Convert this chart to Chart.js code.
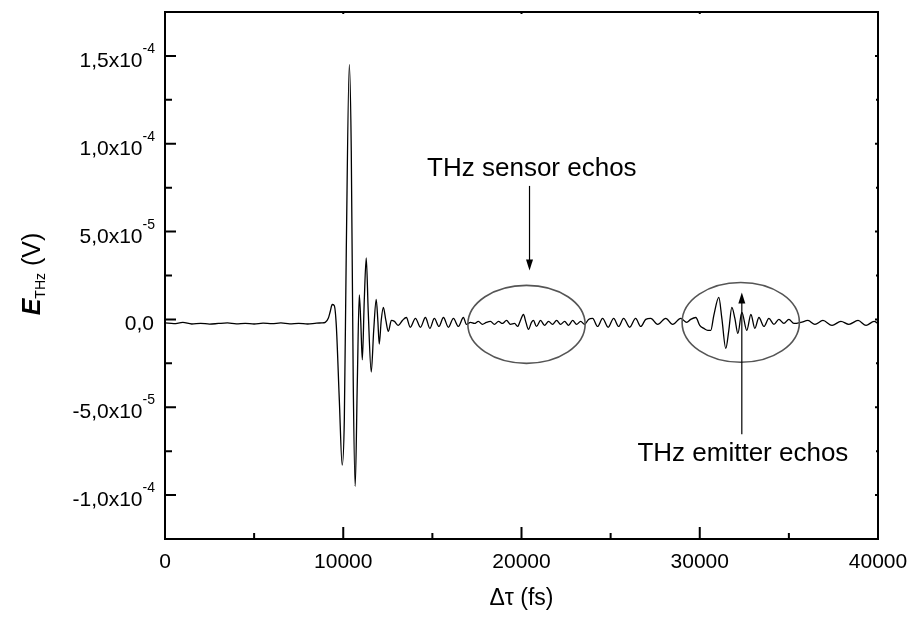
<!DOCTYPE html>
<html>
<head>
<meta charset="utf-8">
<script src="https://cdn.jsdelivr.net/npm/chart.js@4.4.1/dist/chart.umd.min.js"></script>
<style>
  body { margin: 0; background: #fff; }
  #wrap { width: 911px; height: 617px; }
</style>
</head>
<body>
<div id="wrap"><canvas id="thz" width="911" height="617"></canvas></div>
<script>
// time delay (fs)
const delayFs = [
  0, 500, 1000, 1500, 2000, 2500, 3000, 3500, 4000, 4500,
  5000, 5500, 6000, 6500, 7000, 7500, 8000, 8500, 8800, 8990,
  9160, 9270, 9380, 9490, 9610, 9780, 9940, 10060, 10170, 10340,
  10450, 10560, 10670, 10790, 10900, 10980, 11070, 11180, 11290, 11400,
  11570, 11710, 11850, 11940, 12020, 12130, 12250, 12390, 12530, 12700,
  12870, 13090, 13320, 13540, 13760, 14050, 14330, 14610, 14860, 15110,
  15370, 15620, 15900, 16180, 16460, 16740, 16910, 17140, 17360, 17580,
  17810, 18030, 18260, 18480, 18710, 18930, 19160, 19380, 19610, 19780,
  19940, 20110, 20250, 20390, 20560, 20670, 20840, 21070, 21290, 21520,
  21740, 21970, 22190, 22420, 22640, 22870, 23090, 23320, 23540, 23760,
  23990, 24270, 24550, 24860, 25170, 25450, 25730, 26070, 26400, 26690,
  26970, 27250, 27640, 28090, 28480, 28930, 29270, 29490, 29780, 30000,
  30230, 30450, 30620, 30790, 31070, 31240, 31460, 31630, 31800, 31970,
  32140, 32360, 32640, 32870, 33090, 33320, 33600, 33880, 34160, 34440,
  34720, 35000, 35280, 35670, 36070, 36460, 36910, 37420, 37920, 38370,
  38880, 39330, 39780, 40000
];
// THz field (microvolts)
const fieldUV = [
  -2.0, -2.4, -1.7, -2.6, -2.2, -2.7, -2.3, -2.0, -2.5, -2.2,
  -2.6, -2.1, -2.4, -2.0, -2.5, -2.2, -2.6, -2.1, -2.0, -1.7,
  0.6, 4.5, 8.5, 8.0, -3.4, -46, -83, -57, 39, 145,
  96, -35, -95, -35, 14, -0.6, -23, 11, 35, 5,
  -30, -6, 11.4, -0.6, -14, -0.6, 6.8, -0.6, -6.8, -0.6,
  -1.1, -3.4, -0.6, 1.1, -4.5, 0.6, -4.5, 1.1, -5.1, 0.6,
  -4.0, 1.1, -4.5, 0.6, -4.0, 1.1, -2.8, -1.7, -2.3, -1.1,
  -2.8, -1.7, -1.1, -2.8, -1.1, -2.3, -0.6, -2.8, -2.3, -4.0,
  -0.6, 2.8, -1.7, -5.7, -1.7, -0.6, -4.0, -0.6, -3.4, -1.1,
  -2.8, -0.6, -2.8, -1.1, -3.4, -0.6, -2.8, -1.1, -2.8, 0,
  0.6, -4.0, 0.6, -4.5, 0.6, -4.0, 0.6, -4.5, 0.6, -4.0,
  0, 0.6, -2.8, 0.6, -2.8, 0.6, -1.7, 0, 1.1, -3.4,
  -5.1, -6.2, -6.2, 2.3, 12.5, 0.6, -16.5, -6.2, 6.8, 0.6,
  -8.0, 4.0, -6.2, 2.8, -5.1, 1.1, -4.0, 0.6, -2.8, 0,
  -2.3, 0, -2.3, -1.7, -0.6, -2.8, -0.6, -3.4, -1.1, -2.8,
  -0.6, -3.4, -1.1, -2.3
];

const xTickValues = [0, 10000, 20000, 30000, 40000];
const xTickLabels = ['0', '10000', '20000', '30000', '40000'];
const xMinorTicks = [5000, 15000, 25000, 35000];
const yTickValues = [-100, -50, 0, 50, 100, 150];
const yTickMantissa = ['-1,0x10', '-5,0x10', '0,0', '5,0x10', '1,0x10', '1,5x10'];
const yTickExponent = ['-4', '-5', '', '-5', '-4', '-4'];
const yMinorTicks = [-75, -25, 25, 75, 125];

// circled echo regions with their labels
const notes = [
  { text: 'THz sensor echos', tx: 20580, ty: 81.8, ax: 20450, aFrom: 76, aTo: 27.8,
    ex: 20280, ey: -2.8, erx: 3290, ery: 22.2 },
  { text: 'THz emitter echos', tx: 32420, ty: -80.7, ax: 32360, aFrom: -65.3, aTo: 15.3,
    ex: 32300, ey: -1.7, erx: 3290, ery: 22.7 }
];

const FONT = 'Arial, "Liberation Sans", sans-serif';

const framePlugin = {
  id: 'frame',
  afterDraw(chart) {
    const { ctx, chartArea: a, scales: { x, y } } = chart;
    ctx.save();
    ctx.strokeStyle = '#000';
    ctx.fillStyle = '#000';

    // ticks (inward)
    ctx.lineWidth = 2;
    ctx.beginPath();
    xTickValues.forEach(v => {
      const px = x.getPixelForValue(v);
      ctx.moveTo(px, a.bottom); ctx.lineTo(px, a.bottom - 12);
      ctx.moveTo(px, a.top); ctx.lineTo(px, a.top + 2);
    });
    xMinorTicks.forEach(v => {
      const px = x.getPixelForValue(v);
      ctx.moveTo(px, a.bottom); ctx.lineTo(px, a.bottom - 6);
    });
    yTickValues.forEach(v => {
      const py = y.getPixelForValue(v);
      ctx.moveTo(a.left, py); ctx.lineTo(a.left + 11, py);
      ctx.moveTo(a.right, py); ctx.lineTo(a.right - 3, py);
    });
    yMinorTicks.forEach(v => {
      const py = y.getPixelForValue(v);
      ctx.moveTo(a.left, py); ctx.lineTo(a.left + 7, py);
      ctx.moveTo(a.right, py); ctx.lineTo(a.right - 2, py);
    });
    ctx.stroke();

    // frame
    ctx.lineWidth = 2;
    ctx.strokeRect(a.left, a.top, a.right - a.left, a.bottom - a.top);

    // x tick labels
    ctx.font = '21px ' + FONT;
    ctx.textAlign = 'center';
    ctx.textBaseline = 'alphabetic';
    xTickValues.forEach((v, i) => {
      ctx.fillText(xTickLabels[i], x.getPixelForValue(v), a.bottom + 29);
    });

    // y tick labels with superscript exponent
    const rightEdge = a.left - 10;
    yTickValues.forEach((v, i) => {
      const py = y.getPixelForValue(v);
      let r = rightEdge;
      ctx.textAlign = 'right';
      if (yTickExponent[i]) {
        ctx.font = '14px ' + FONT;
        ctx.fillText(yTickExponent[i], r, py - 3);
        r -= ctx.measureText(yTickExponent[i]).width;
      } else {
        r -= 1;
      }
      ctx.font = '21px ' + FONT;
      ctx.fillText(yTickMantissa[i], r, py + 11);
    });

    // x title
    ctx.font = '23px ' + FONT;
    ctx.textAlign = 'center';
    ctx.fillText('\u0394\u03c4 (fs)', (a.left + a.right) / 2, 605);

    // y title: E_THz (V)
    ctx.save();
    const parts = [
      { t: 'E', f: 'italic bold 25px ' + FONT, dy: 0 },
      { t: 'THz', f: '14px ' + FONT, dy: 5 },
      { t: ' (V)', f: '25px ' + FONT, dy: 0 }
    ];
    let total = 0;
    parts.forEach(p => { ctx.font = p.f; p.w = ctx.measureText(p.t).width; total += p.w; });
    ctx.translate(40, 274);
    ctx.rotate(-Math.PI / 2);
    ctx.textAlign = 'left';
    let cx = -total / 2;
    parts.forEach(p => { ctx.font = p.f; ctx.fillText(p.t, cx, p.dy); cx += p.w; });
    ctx.restore();

    // annotations
    notes.forEach(n => {
      const ecx = x.getPixelForValue(n.ex), ecy = y.getPixelForValue(n.ey);
      const rx = x.getPixelForValue(n.ex + n.erx) - ecx;
      const ry = ecy - y.getPixelForValue(n.ey + n.ery);
      ctx.strokeStyle = '#555';
      ctx.lineWidth = 1.6;
      ctx.beginPath();
      ctx.ellipse(ecx, ecy, rx, ry, 0, 0, Math.PI * 2);
      ctx.stroke();

      const axp = x.getPixelForValue(n.ax);
      const y0 = y.getPixelForValue(n.aFrom), y1 = y.getPixelForValue(n.aTo);
      const dir = Math.sign(y1 - y0);
      ctx.strokeStyle = '#000';
      ctx.lineWidth = 1.2;
      ctx.beginPath();
      ctx.moveTo(axp, y0);
      ctx.lineTo(axp, y1 - dir * 8);
      ctx.stroke();
      ctx.beginPath();
      ctx.moveTo(axp, y1);
      ctx.lineTo(axp - 3.5, y1 - dir * 11);
      ctx.lineTo(axp + 3.5, y1 - dir * 11);
      ctx.closePath();
      ctx.fill();

      ctx.font = '26px ' + FONT;
      ctx.textAlign = 'center';
      ctx.fillText(n.text, x.getPixelForValue(n.tx), y.getPixelForValue(n.ty));
    });

    ctx.restore();
  }
};

new Chart(document.getElementById('thz').getContext('2d'), {
  type: 'line',
  data: {
    datasets: [{
      data: delayFs.map((t, i) => ({ x: t, y: fieldUV[i] })),
      borderColor: '#000',
      borderWidth: 1.3,
      pointRadius: 0,
      fill: false,
      cubicInterpolationMode: 'monotone',
    }],
  },
  options: {
    responsive: false,
    animation: false,
    layout: { padding: { left: 165, right: 33, top: 12, bottom: 78 } },
    scales: {
      x: { type: 'linear', min: 0, max: 40000, display: false },
      y: { type: 'linear', min: -125, max: 175, display: false },
    },
    plugins: {
      legend: { display: false },
      tooltip: { enabled: false },
    },
  },
  plugins: [framePlugin],
});
</script>
</body>
</html>
